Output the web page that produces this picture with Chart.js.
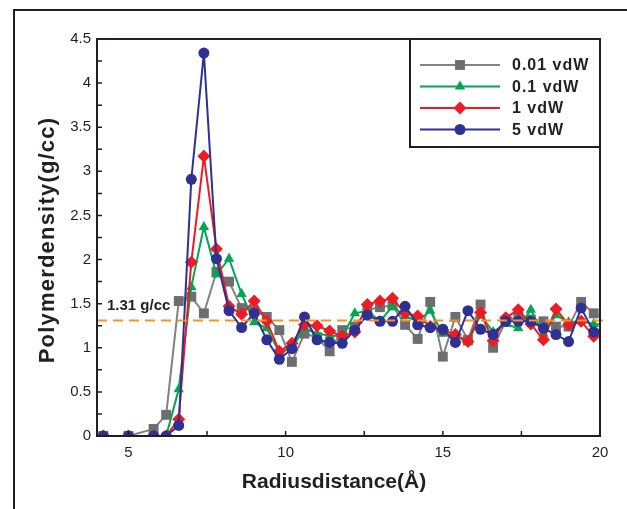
<!DOCTYPE html>
<html>
<head>
<meta charset="utf-8">
<script src="https://cdn.jsdelivr.net/npm/chart.js@4/dist/chart.umd.min.js"></script>
<style>
  html, body { margin: 0; padding: 0; background: #fff; }
  #wrap { width: 627px; height: 509px; }
</style>
</head>
<body>
<div id="wrap"><canvas id="myChart" width="627" height="509"></canvas></div>
<script>
// radial distance of each sample (Å)
let radius = [4.2, 5.0, 5.8, 6.2, 6.6, 7.0, 7.4, 7.8, 8.2, 8.6, 9.0, 9.4, 9.8,
  10.2, 10.6, 11.0, 11.4, 11.8, 12.2, 12.6, 13.0, 13.4, 13.8, 14.2, 14.6, 15.0,
  15.4, 15.8, 16.2, 16.6, 17.0, 17.4, 17.8, 18.2, 18.6, 19.0, 19.4, 19.8, 20.2];

// polymer density (g/cc) per vdW scaling
let vdw001 = [0, 0, 0.08, 0.24, 1.53, 1.58, 1.39, 1.86, 1.75, 1.45, 1.42, 1.35, 1.20,
  0.84, 1.16, 1.12, 0.96, 1.20, 1.24, 1.43, 1.46, 1.48, 1.26, 1.10, 1.52, 0.90,
  1.35, 1.09, 1.49, 1.00, 1.30, 1.35, 1.32, 1.30, 1.24, 1.24, 1.52, 1.39, 1.33];
let vdw01 = [0, 0, 0, 0, 0.53, 1.69, 2.37, 1.83, 2.01, 1.61, 1.29, 1.22, 0.95,
  1.00, 1.22, 1.16, 1.14, 1.13, 1.39, 1.42, 1.30, 1.47, 1.36, 1.30, 1.42, 1.16,
  1.14, 1.06, 1.37, 1.18, 1.27, 1.22, 1.43, 1.16, 1.37, 1.29, 1.30, 1.27, 1.26];
let vdw1 = [0, 0, 0, 0, 0.19, 1.97, 3.17, 2.12, 1.47, 1.38, 1.53, 1.30, 0.96,
  1.05, 1.26, 1.25, 1.19, 1.13, 1.18, 1.49, 1.53, 1.56, 1.39, 1.36, 1.24, 1.20,
  1.15, 1.07, 1.40, 1.08, 1.34, 1.43, 1.27, 1.09, 1.44, 1.26, 1.30, 1.13, 1.20];
let vdw5 = [0, 0, 0, 0, 0.12, 2.91, 4.34, 2.01, 1.42, 1.23, 1.39, 1.09, 0.87,
  0.99, 1.35, 1.09, 1.06, 1.05, 1.20, 1.37, 1.30, 1.30, 1.47, 1.26, 1.23, 1.21,
  1.06, 1.42, 1.21, 1.15, 1.30, 1.30, 1.30, 1.22, 1.15, 1.07, 1.45, 1.18, 1.22];

let seriesLabels = ['0.01 vdW', '0.1 vdW', '1 vdW', '5 vdW'];
let bulkDensity = 1.31;

let xTickLabels = [5, 10, 15, 20];
let yTickLabels = [0, 0.5, 1, 1.5, 2, 2.5, 3, 3.5, 4, 4.5];

let textColor = '#231f20';
let font = "'Liberation Sans', Arial, Helvetica, sans-serif";

let toPoints = (vals) => radius.map((r, i) => ({ x: r, y: vals[i] }));

let styles = [
  { line: '#808285', fill: '#6d6e71', pointStyle: 'rect', radius: 7, order: 4 },
  { line: '#00a651', fill: '#00a651', pointStyle: 'triangle', radius: 6, order: 3 },
  { line: '#ed1c24', fill: '#ed1c24', pointStyle: 'rectRot', radius: 6.5, order: 2 },
  { line: '#2e3192', fill: '#2e3192', pointStyle: 'circle', radius: 5.5, order: 1 }
];

let datasets = [vdw001, vdw01, vdw1, vdw5].map((vals, i) => {
  let s = styles[i];
  return {
    label: seriesLabels[i],
    data: toPoints(vals),
    borderColor: s.line,
    backgroundColor: s.fill,
    pointBackgroundColor: s.fill,
    pointBorderColor: s.fill,
    borderWidth: 2,
    pointStyle: s.pointStyle,
    pointRadius: s.radius,
    pointBorderWidth: 0,
    tension: 0,
    order: s.order
  };
});

let decorations = {
  id: 'decorations',
  afterDatasetsDraw(chart) {
    let ctx = chart.ctx;
    let area = chart.chartArea;
    let ys = chart.scales.y;

    // bulk density reference
    let yRef = ys.getPixelForValue(bulkDensity);
    ctx.save();
    ctx.strokeStyle = '#f7941d';
    ctx.lineWidth = 2;
    ctx.setLineDash([10, 6]);
    ctx.beginPath();
    ctx.moveTo(area.left, yRef);
    ctx.lineTo(area.right + 7, yRef);
    ctx.stroke();
    ctx.restore();

    ctx.save();
    ctx.fillStyle = textColor;
    ctx.font = 'bold 15px ' + font;
    ctx.fillText(bulkDensity + ' g/cc', area.left + 10, yRef - 10);
    ctx.restore();
  },
  afterDraw(chart) {
    let ctx = chart.ctx;
    let area = chart.chartArea;
    let xs = chart.scales.x;
    let ys = chart.scales.y;

    ctx.save();
    ctx.strokeStyle = textColor;
    ctx.lineWidth = 2;

    // outer frame (left and top edges)
    ctx.beginPath();
    ctx.moveTo(14, chart.height);
    ctx.lineTo(14, 10);
    ctx.lineTo(chart.width, 10);
    ctx.stroke();

    // plot box
    ctx.strokeRect(area.left, area.top, area.right - area.left, area.bottom - area.top);

    // inward tick marks
    ctx.lineWidth = 1.5;
    ctx.beginPath();
    for (let v = 5; v <= 20; v += 2.5) {
      let px = xs.getPixelForValue(v);
      ctx.moveTo(px, area.bottom);
      ctx.lineTo(px, area.bottom - 5);
    }
    for (let v = 0.25; v < 4.5; v += 0.25) {
      let py = ys.getPixelForValue(v);
      ctx.moveTo(area.left, py);
      ctx.lineTo(area.left + 5, py);
    }
    ctx.stroke();

    // legend box
    let lx = 410, ly = area.top, lw = area.right - 410, lh = 108;
    ctx.lineWidth = 2;
    ctx.strokeRect(lx, ly, lw, lh);
    ctx.font = 'bold 16px ' + font;
    ctx.letterSpacing = '1px';
    ctx.textBaseline = 'middle';
    chart.data.datasets.forEach((ds, i) => {
      let rowY = ly + 26 + i * 21.5;
      ctx.strokeStyle = ds.borderColor;
      ctx.lineWidth = 2;
      ctx.beginPath();
      ctx.moveTo(lx + 10, rowY);
      ctx.lineTo(lx + 90, rowY);
      ctx.stroke();
      ctx.fillStyle = ds.pointBackgroundColor;
      Chart.helpers.drawPoint(ctx, {
        pointStyle: ds.pointStyle,
        radius: ds.pointRadius,
        rotation: 0,
        borderWidth: 0
      }, lx + 50, rowY);
      ctx.fillStyle = textColor;
      ctx.fillText(ds.label, lx + 102, rowY + 1);
    });

    // axis titles
    ctx.fillStyle = textColor;
    ctx.textAlign = 'center';
    ctx.font = 'bold 21px ' + font;
    ctx.letterSpacing = '0px';
    ctx.fillText('Radiusdistance(Å)', 334, 482);
    ctx.font = 'bold 22px ' + font;
    ctx.letterSpacing = '1.2px';
    ctx.translate(48, 240);
    ctx.rotate(-Math.PI / 2);
    ctx.fillText('Polymerdensity(g/cc)', 0, 0);
    ctx.restore();
  }
};

let ctx = document.getElementById('myChart');
let myChart = new Chart(ctx, {
  type: 'line',
  data: { datasets: datasets },
  options: {
    responsive: false,
    animation: false,
    devicePixelRatio: 1,
    layout: { padding: { left: 0, top: 39, right: 27, bottom: 0 } },
    plugins: {
      legend: { display: false },
      tooltip: { enabled: false }
    },
    scales: {
      x: {
        type: 'linear',
        min: 4,
        max: 20,
        grid: { display: false, drawTicks: false },
        border: { display: false },
        afterFit: (scale) => { scale.height = 73; },
        afterBuildTicks: (scale) => { scale.ticks = xTickLabels.map(v => ({ value: v })); },
        ticks: {
          padding: 8,
          autoSkip: false,
          maxRotation: 0,
          color: textColor,
          font: { family: font, size: 15 },
          callback: (v) => String(v)
        }
      },
      y: {
        min: 0,
        max: 4.5,
        grid: { display: false, drawTicks: false },
        border: { display: false },
        afterFit: (scale) => { scale.width = 97; },
        afterBuildTicks: (scale) => { scale.ticks = yTickLabels.map(v => ({ value: v })); },
        ticks: {
          padding: 6,
          autoSkip: false,
          color: textColor,
          font: { family: font, size: 15 },
          callback: (v) => String(v)
        }
      }
    }
  },
  plugins: [decorations]
});
</script>
</body>
</html>
